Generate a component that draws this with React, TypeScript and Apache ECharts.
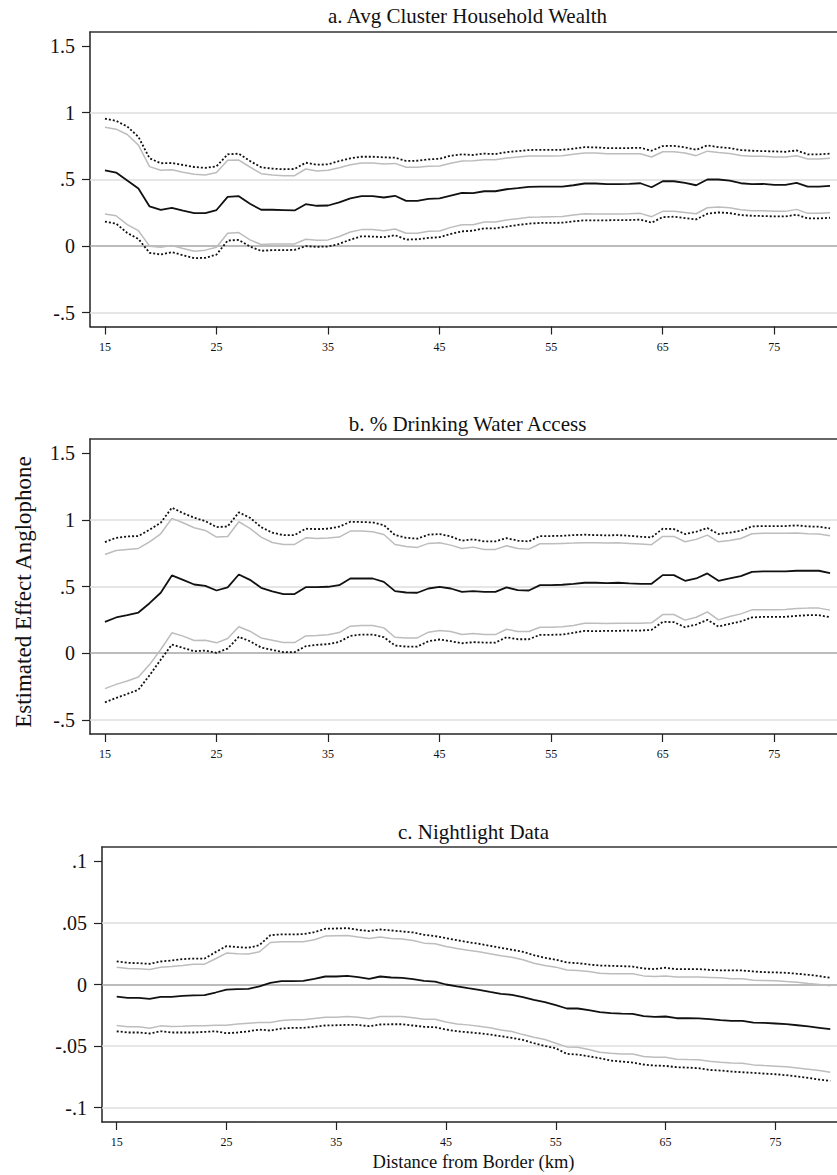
import React, { useEffect, useRef } from "react";
import * as echarts from "echarts";

// Distance from border (km)
const km = [
  15, 16, 17, 18, 19, 20, 21, 22, 23, 24, 25, 26, 27, 28, 29, 30, 31, 32, 33, 34, 35, 36,
  37, 38, 39, 40, 41, 42, 43, 44, 45, 46, 47, 48, 49, 50, 51, 52, 53, 54, 55, 56, 57, 58,
  59, 60, 61, 62, 63, 64, 65, 66, 67, 68, 69, 70, 71, 72, 73, 74, 75, 76, 77, 78, 79, 80,
];
const xTicks = [15, 25, 35, 45, 55, 65, 75];

// a. Avg Cluster Household Wealth
const wealthEst = [
  0.567, 0.55, 0.49, 0.43, 0.296, 0.27, 0.286, 0.264, 0.246, 0.246, 0.269, 0.368, 0.373, 0.316, 0.271, 0.271, 0.269, 0.266, 0.313, 0.301, 0.303, 0.326, 0.356, 0.373, 0.373, 0.363, 0.376, 0.338, 0.338, 0.353, 0.356, 0.378, 0.398,
  0.396, 0.41, 0.41, 0.425, 0.433, 0.443, 0.445, 0.445, 0.445, 0.455, 0.468, 0.468, 0.463, 0.463, 0.465, 0.47, 0.44, 0.485, 0.485, 0.473, 0.455, 0.498, 0.498, 0.49, 0.47, 0.463, 0.465, 0.458, 0.458, 0.473, 0.445, 0.445, 0.45,
];
const wealthHi90 = [
  0.89, 0.876, 0.836, 0.756, 0.595, 0.567, 0.572, 0.552, 0.537, 0.532, 0.55, 0.642, 0.644, 0.592, 0.542, 0.532, 0.527, 0.527, 0.577, 0.562, 0.567, 0.587, 0.609, 0.622, 0.622, 0.614, 0.619, 0.59, 0.59, 0.597, 0.6, 0.62, 0.637,
  0.639, 0.647, 0.647, 0.659, 0.667, 0.674, 0.674, 0.674, 0.677, 0.687, 0.697, 0.697, 0.692, 0.692, 0.692, 0.692, 0.667, 0.706, 0.706, 0.697, 0.677, 0.711, 0.701, 0.694, 0.679, 0.672, 0.672, 0.667, 0.667, 0.677, 0.652, 0.652, 0.657,
];
const wealthHi95 = [
  0.955, 0.938, 0.896, 0.818, 0.657, 0.62, 0.622, 0.607, 0.592, 0.585, 0.597, 0.687, 0.692, 0.637, 0.59, 0.58, 0.575, 0.577, 0.624, 0.609, 0.612, 0.637, 0.657, 0.669, 0.669, 0.664, 0.662, 0.637, 0.639, 0.649, 0.654, 0.677, 0.687,
  0.682, 0.692, 0.689, 0.704, 0.711, 0.719, 0.721, 0.721, 0.721, 0.729, 0.741, 0.739, 0.734, 0.734, 0.734, 0.736, 0.714, 0.749, 0.751, 0.739, 0.721, 0.754, 0.741, 0.734, 0.719, 0.714, 0.711, 0.709, 0.706, 0.716, 0.687, 0.687, 0.692,
];
const wealthLo90 = [
  0.239, 0.226, 0.159, 0.114, -0.002, -0.01, 0.002, -0.02, -0.04, -0.032, -0.01, 0.095, 0.1, 0.045, 0.01, 0.015, 0.015, 0.015, 0.05, 0.042, 0.045, 0.07, 0.104, 0.122, 0.122, 0.114, 0.127, 0.095, 0.095, 0.109, 0.112, 0.139, 0.159,
  0.159, 0.179, 0.179, 0.194, 0.204, 0.214, 0.216, 0.219, 0.221, 0.231, 0.241, 0.239, 0.239, 0.239, 0.241, 0.244, 0.219, 0.259, 0.259, 0.251, 0.241, 0.286, 0.291, 0.286, 0.271, 0.264, 0.264, 0.259, 0.259, 0.274, 0.244, 0.244, 0.249,
];
const wealthLo95 = [
  0.182, 0.167, 0.097, 0.052, -0.052, -0.065, -0.047, -0.07, -0.092, -0.09, -0.065, 0.04, 0.045, -0.005, -0.037, -0.032, -0.032, -0.03, -0.002, -0.007, -0.005, 0.015, 0.047, 0.072, 0.07, 0.065, 0.08, 0.047, 0.05, 0.06, 0.065, 0.09, 0.109,
  0.114, 0.132, 0.132, 0.144, 0.157, 0.167, 0.172, 0.172, 0.174, 0.184, 0.192, 0.192, 0.192, 0.194, 0.194, 0.197, 0.174, 0.216, 0.219, 0.209, 0.199, 0.241, 0.251, 0.246, 0.231, 0.226, 0.224, 0.221, 0.221, 0.234, 0.206, 0.206, 0.211,
];

// b. % Drinking Water Access
const waterEst = [
  0.235, 0.268, 0.285, 0.305, 0.375, 0.453, 0.583, 0.55, 0.515, 0.505, 0.47, 0.493, 0.59, 0.55, 0.49, 0.463, 0.443, 0.443, 0.495, 0.495, 0.498, 0.51, 0.56, 0.56, 0.56, 0.535, 0.465, 0.455, 0.453, 0.485, 0.498, 0.485, 0.46,
  0.465, 0.46, 0.46, 0.493, 0.473, 0.47, 0.51, 0.51, 0.513, 0.52, 0.528, 0.528, 0.525, 0.528, 0.523, 0.52, 0.52, 0.585, 0.585, 0.543, 0.56, 0.598, 0.543, 0.56, 0.578, 0.61, 0.613, 0.613, 0.613, 0.618, 0.618, 0.618, 0.6,
];
const waterHi90 = [
  0.74, 0.77, 0.778, 0.785, 0.835, 0.895, 1.01, 0.978, 0.94, 0.92, 0.87, 0.875, 0.985, 0.935, 0.87, 0.83, 0.815, 0.815, 0.865, 0.86, 0.863, 0.87, 0.915, 0.915, 0.91, 0.89, 0.815, 0.8, 0.793, 0.823, 0.828, 0.81, 0.785,
  0.795, 0.778, 0.778, 0.805, 0.785, 0.78, 0.82, 0.82, 0.823, 0.825, 0.828, 0.828, 0.825, 0.828, 0.823, 0.818, 0.813, 0.875, 0.875, 0.835, 0.853, 0.885, 0.835, 0.845, 0.86, 0.895, 0.898, 0.898, 0.898, 0.9, 0.895, 0.893, 0.88,
];
const waterHi95 = [
  0.833, 0.865, 0.875, 0.878, 0.925, 0.978, 1.09, 1.05, 1.015, 0.99, 0.945, 0.95, 1.055, 1.015, 0.945, 0.903, 0.885, 0.885, 0.933, 0.93, 0.933, 0.948, 0.985, 0.983, 0.98, 0.96, 0.885, 0.865, 0.858, 0.888, 0.893, 0.875, 0.843,
  0.853, 0.838, 0.838, 0.863, 0.843, 0.838, 0.878, 0.878, 0.88, 0.885, 0.888, 0.885, 0.883, 0.885, 0.88, 0.873, 0.868, 0.933, 0.93, 0.893, 0.91, 0.938, 0.893, 0.903, 0.918, 0.95, 0.953, 0.953, 0.953, 0.958, 0.95, 0.948, 0.935,
];
const waterLo90 = [
  -0.265, -0.233, -0.208, -0.178, -0.085, 0.028, 0.153, 0.128, 0.095, 0.098, 0.078, 0.11, 0.198, 0.165, 0.115, 0.098, 0.08, 0.08, 0.13, 0.133, 0.138, 0.155, 0.203, 0.208, 0.208, 0.19, 0.12, 0.115, 0.115, 0.158, 0.17, 0.163, 0.14,
  0.148, 0.14, 0.14, 0.18, 0.163, 0.163, 0.195, 0.195, 0.198, 0.208, 0.225, 0.225, 0.223, 0.225, 0.225, 0.225, 0.228, 0.29, 0.29, 0.248, 0.27, 0.31, 0.25, 0.275, 0.295, 0.325, 0.325, 0.325, 0.328, 0.335, 0.338, 0.338, 0.323,
];
const waterLo95 = [
  -0.368, -0.335, -0.305, -0.273, -0.165, -0.048, 0.065, 0.04, 0.015, 0.02, 0.003, 0.035, 0.123, 0.09, 0.043, 0.025, 0.008, 0.008, 0.053, 0.063, 0.068, 0.085, 0.13, 0.14, 0.14, 0.12, 0.058, 0.05, 0.05, 0.09, 0.103, 0.09, 0.075,
  0.083, 0.08, 0.08, 0.12, 0.105, 0.105, 0.138, 0.138, 0.14, 0.153, 0.168, 0.165, 0.168, 0.168, 0.17, 0.17, 0.175, 0.235, 0.233, 0.195, 0.215, 0.25, 0.2, 0.22, 0.238, 0.268, 0.273, 0.273, 0.273, 0.28, 0.285, 0.285, 0.27,
];

// c. Nightlight Data
const lightEst = [
  -0.0098, -0.0108, -0.0108, -0.0117, -0.01, -0.01, -0.0092, -0.0089, -0.0087, -0.0065, -0.0041, -0.0038, -0.0035, -0.0016, 0.0014, 0.0027, 0.0027, 0.003, 0.0046, 0.0065, 0.0065, 0.007, 0.006, 0.0046, 0.0065, 0.0057, 0.0054, 0.0043, 0.003, 0.0024, 0, -0.0016, -0.003,
  -0.0043, -0.006, -0.0076, -0.0084, -0.0103, -0.0125, -0.0144, -0.0168, -0.0195, -0.0195, -0.0209, -0.0225, -0.0233, -0.0236, -0.0238, -0.0257, -0.0263, -0.026, -0.0274, -0.0274, -0.0276, -0.0282, -0.029, -0.0295, -0.0295, -0.0309, -0.0312, -0.0317, -0.0322, -0.0331, -0.0341, -0.0352, -0.0363,
];
const lightHi90 = [
  0.0141, 0.013, 0.0127, 0.0122, 0.0141, 0.0146, 0.0154, 0.0165, 0.0165, 0.0209, 0.0255, 0.0249, 0.0247, 0.0266, 0.0341, 0.0347, 0.0347, 0.0347, 0.0363, 0.0393, 0.0396, 0.0398, 0.0385, 0.0374, 0.0385, 0.0374, 0.0369, 0.0358, 0.0336, 0.0331, 0.0309, 0.0293, 0.0278,
  0.0266, 0.0249, 0.0233, 0.0222, 0.0201, 0.0173, 0.0154, 0.0141, 0.0117, 0.0114, 0.0106, 0.0092, 0.0087, 0.0087, 0.0087, 0.007, 0.0065, 0.007, 0.006, 0.006, 0.006, 0.0057, 0.0054, 0.0046, 0.0046, 0.0035, 0.0033, 0.003, 0.0024, 0.0019, 0.0008, 0, -0.0011,
];
const lightHi95 = [
  0.0187, 0.0176, 0.0173, 0.0168, 0.0187, 0.0195, 0.0206, 0.0211, 0.0211, 0.0263, 0.0312, 0.0304, 0.0298, 0.032, 0.0401, 0.0407, 0.0407, 0.0409, 0.0425, 0.0453, 0.0455, 0.0458, 0.0444, 0.0434, 0.0447, 0.0439, 0.0431, 0.0423, 0.0404, 0.0393, 0.0377, 0.036, 0.0344,
  0.0331, 0.0314, 0.0298, 0.0282, 0.0266, 0.0238, 0.0217, 0.0201, 0.0179, 0.0173, 0.0163, 0.0154, 0.0152, 0.0149, 0.0146, 0.013, 0.0125, 0.0136, 0.0125, 0.0125, 0.0125, 0.0119, 0.0114, 0.0114, 0.0114, 0.0106, 0.01, 0.0098, 0.0095, 0.0087, 0.0079, 0.0068, 0.0054,
];
const lightLo90 = [
  -0.0333, -0.0344, -0.0344, -0.0355, -0.0336, -0.0341, -0.0339, -0.0336, -0.0336, -0.0331, -0.0331, -0.032, -0.0314, -0.0309, -0.0309, -0.0293, -0.0287, -0.0287, -0.0276, -0.0266, -0.0266, -0.026, -0.0266, -0.0279, -0.026, -0.026, -0.026, -0.0271, -0.0282, -0.0282, -0.0304, -0.032, -0.0328,
  -0.0339, -0.0352, -0.0369, -0.0382, -0.0407, -0.0428, -0.0447, -0.0477, -0.0507, -0.051, -0.0528, -0.055, -0.0558, -0.0564, -0.0564, -0.0585, -0.0591, -0.0591, -0.0607, -0.061, -0.0612, -0.0623, -0.0631, -0.0637, -0.064, -0.0653, -0.0659, -0.0664, -0.0669, -0.0678, -0.0688, -0.0699, -0.0713,
];
const lightLo95 = [
  -0.038, -0.039, -0.039, -0.0398, -0.038, -0.039, -0.039, -0.039, -0.0385, -0.038, -0.0396, -0.039, -0.038, -0.0366, -0.0374, -0.0358, -0.0352, -0.0352, -0.0344, -0.0333, -0.0331, -0.0328, -0.0328, -0.0339, -0.0325, -0.0323, -0.0323, -0.0333, -0.0344, -0.0347, -0.0366, -0.038, -0.0388,
  -0.0396, -0.0407, -0.042, -0.0434, -0.045, -0.0477, -0.0499, -0.0518, -0.0564, -0.0569, -0.0583, -0.0599, -0.0618, -0.0626, -0.0634, -0.065, -0.0659, -0.0661, -0.0672, -0.0675, -0.068, -0.0694, -0.0699, -0.0707, -0.0713, -0.0718, -0.0724, -0.0729, -0.0737, -0.0748, -0.0759, -0.0772, -0.0783,
];

const yTicksAB = [-0.5, 0, 0.5, 1, 1.5];
const gridAB = [-0.5, 0.5, 1];
const yTicksC = [-0.1, -0.05, 0, 0.05, 0.1];
const gridC = [-0.1, -0.05, 0.05];

const titles = ["a. Avg Cluster Household Wealth", "b. % Drinking Water Access", "c. Nightlight Data"];
const yTitle = "Estimated Effect Anglophone";
const xTitle = "Distance from Border (km)";

const FONT = '"Liberation Serif", "Times New Roman", serif';

const zip = (vals: number[]) => km.map((k, i) => [k, vals[i]]);
const fmt = (v: number) => (v === 0 ? "0" : String(Number(v.toFixed(3))).replace("0.", "."));

export default function App() {
  const ref = useRef<HTMLDivElement>(null);

  useEffect(() => {
    if (!ref.current) return;
    const chart = echarts.init(ref.current, null, { renderer: "svg" });

    const grids = [
      { left: 90, top: 32, width: 755, height: 294.5 },
      { left: 90, top: 439, width: 755, height: 295 },
      { left: 102, top: 847, width: 743, height: 275 },
    ];
    const yRanges = [
      [-0.605, 1.605],
      [-0.605, 1.605],
      [-0.1117, 0.1117],
    ];
    const panels = [
      { est: wealthEst, hi90: wealthHi90, lo90: wealthLo90, hi95: wealthHi95, lo95: wealthLo95, ticks: yTicksAB, grid: gridAB },
      { est: waterEst, hi90: waterHi90, lo90: waterLo90, hi95: waterHi95, lo95: waterLo95, ticks: yTicksAB, grid: gridAB },
      { est: lightEst, hi90: lightHi90, lo90: lightLo90, hi95: lightHi95, lo95: lightLo95, ticks: yTicksC, grid: gridC },
    ];

    const xAxis: any[] = [];
    const yAxis: any[] = [];
    const series: any[] = [];
    const graphic: any[] = [];

    panels.forEach((p, i) => {
      xAxis.push({
        type: "value",
        gridIndex: i,
        min: 13.66,
        max: 81.34,
        position: "bottom",
        axisLine: { show: true, onZero: false, lineStyle: { color: "#222", width: 1.5 } },
        axisTick: { show: true, length: 8, lineStyle: { color: "#222", width: 1.2 }, customValues: xTicks },
        axisLabel: { show: true, customValues: xTicks, fontFamily: FONT, fontSize: 12, color: "#111", margin: 14 },
        splitLine: { show: false },
      });
      xAxis.push({
        type: "value",
        gridIndex: i,
        min: 13.66,
        max: 81.34,
        position: "top",
        axisLine: { show: true, onZero: false, lineStyle: { color: "#333", width: 1.5 } },
        axisTick: { show: false },
        axisLabel: { show: false },
        splitLine: { show: false },
      });
      yAxis.push({
        type: "value",
        gridIndex: i,
        min: yRanges[i][0],
        max: yRanges[i][1],
        axisLine: { show: true, onZero: false, lineStyle: { color: "#222", width: 1.5 } },
        axisTick: { show: true, length: 8, lineStyle: { color: "#222", width: 1.2 }, customValues: p.ticks },
        axisLabel: {
          show: true,
          customValues: p.ticks,
          formatter: (v: number) => fmt(v),
          fontFamily: FONT,
          fontSize: 20,
          color: "#111",
          margin: 15,
        },
        splitLine: { show: false },
      });

      const xi = i * 2;
      const base = { type: "line", xAxisIndex: xi, yAxisIndex: i, showSymbol: false, symbol: "none", silent: true, animation: false };
      series.push({
        ...base,
        name: `grid${i}`,
        data: zip(p.est),
        z: 1,
        lineStyle: { opacity: 0 },
        markLine: {
          silent: true,
          symbol: "none",
          z: 1,
          animation: false,
          label: { show: false },
          emphasis: { disabled: true },
          data: [
            ...p.grid.map((g) => ({ yAxis: g, lineStyle: { color: "#dedede", width: 1.6, type: "solid" } })),
            { yAxis: 0, lineStyle: { color: "#a6a6a6", width: 1.6, type: "solid" } },
          ],
        },
      });
      series.push({ ...base, name: `hi90_${i}`, data: zip(p.hi90), z: 2, lineStyle: { color: "#bdbdbd", width: 1.5 } });
      series.push({ ...base, name: `lo90_${i}`, data: zip(p.lo90), z: 2, lineStyle: { color: "#bdbdbd", width: 1.5 } });
      series.push({ ...base, name: `hi95_${i}`, data: zip(p.hi95), z: 3, lineStyle: { color: "#111", width: 1.8, type: [2, 2] } });
      series.push({ ...base, name: `lo95_${i}`, data: zip(p.lo95), z: 3, lineStyle: { color: "#111", width: 1.8, type: [2, 2] } });
      series.push({ ...base, name: `est_${i}`, data: zip(p.est), z: 4, lineStyle: { color: "#111", width: 1.8 } });

      const g = grids[i];
      const titleY = [16, 424, 832][i];
      graphic.push({
        type: "text",
        x: g.left + g.width / 2,
        y: titleY,
        style: { text: titles[i], fontFamily: FONT, fontSize: 21, fill: "#111", align: "center", verticalAlign: "middle" },
      });
    });

    graphic.push({
      type: "text",
      x: 23.5,
      y: 592,
      rotation: Math.PI / 2,
      style: { text: yTitle, fontFamily: FONT, fontSize: 23, fill: "#111", align: "center", verticalAlign: "middle" },
    });
    graphic.push({
      type: "text",
      x: 473.5,
      y: 1162,
      style: { text: xTitle, fontFamily: FONT, fontSize: 18.5, fill: "#111", align: "center", verticalAlign: "middle" },
    });

    chart.setOption({
      animation: false,
      backgroundColor: "#fff",
      grid: grids.map((g) => ({ ...g, containLabel: false })),
      xAxis,
      yAxis,
      series,
      graphic,
    });

    return () => chart.dispose();
  }, []);

  return (
    <div style={{ position: "absolute", left: 0, top: 0, width: 837, height: 1175, overflow: "hidden", background: "#fff" }}>
      <div ref={ref} style={{ width: 860, height: 1175 }} />
    </div>
  );
}
